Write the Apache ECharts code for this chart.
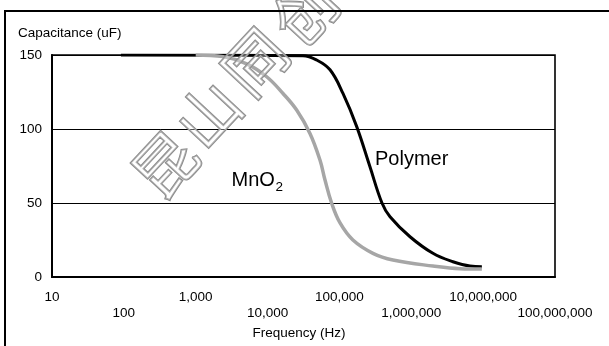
<!DOCTYPE html>
<html>
<head>
<meta charset="utf-8">
<script src="https://cdn.jsdelivr.net/npm/echarts@6/dist/echarts.min.js"></script>
<style>
html,body{margin:0;padding:0;background:#fff;}
#chart{width:609px;height:346px;}
</style>
</head>
<body>
<div id="chart"></div>
<script>
// Data
const polymerFreq = [91, 31100, 48300, 74000, 112000, 174000, 266000, 391000, 506000, 960000, 2000000, 3800000, 6560000, 9600000];
const polymerCap  = [150, 149.5, 146.6, 140, 124, 101.6, 74.5, 50, 40.7, 27.2, 16, 10.3, 7.4, 7];
const mno2Freq = [1000, 2400, 5120, 9720, 16400, 25400, 38900, 53600, 63000, 78000, 102000, 154000, 293000, 556000, 2000000, 4760000, 9600000];
const mno2Cap  = [150, 148.9, 144, 135.3, 124, 112.8, 97, 79, 65.5, 49.8, 36.5, 25, 16, 11.5, 7.4, 5.6, 5.4];
const xTicks = [10, 100, 1000, 10000, 100000, 1000000, 10000000, 100000000];
const xTickLabels = ['10', '100', '1,000', '10,000', '100,000', '1,000,000', '10,000,000', '100,000,000'];
const yTicks = [0, 50, 100, 150];
const yTickLabels = ['0', '50', '100', '150'];
const seriesNames = ['Polymer', 'MnO2'];

const FONT = '"Liberation Sans", Arial, sans-serif';
const chart = echarts.init(document.getElementById('chart'), null, {renderer: 'canvas'});

function pairs(xs, ys) { return xs.map((x, i) => [x, ys[i]]); }

const wm = ['昆', '山', '同', '创'];
const wmPos = [[165, 165], [208, 114], [255, 62], [305, 12]];

chart.setOption({
  animation: false,
  backgroundColor: '#fff',
  grid: {left: 52, right: 54, top: 55, bottom: 69, show: true, borderColor: '#000', borderWidth: 1.6, containLabel: false},
  xAxis: {
    type: 'log', logBase: 10, min: xTicks[0], max: xTicks[xTicks.length - 1],
    axisLine: {show: true, onZero: false, lineStyle: {color: '#000', width: 2}},
    axisTick: {show: false},
    splitLine: {show: false},
    axisLabel: {
      color: '#000', fontFamily: FONT, fontSize: 13.5, margin: 12, lineHeight: 16,
      formatter: function (v) {
        const i = xTicks.findIndex(t => Math.abs(Math.log10(t) - Math.log10(v)) < 1e-6);
        if (i < 0) return '';
        return (i % 2 === 1 ? '\n' : '') + xTickLabels[i];
      }
    }
  },
  yAxis: {
    type: 'value', min: yTicks[0], max: yTicks[yTicks.length - 1], interval: 50,
    axisLine: {show: true, lineStyle: {color: '#000', width: 2}},
    axisTick: {show: false},
    splitLine: {show: true, lineStyle: {color: '#000', width: 1.2}},
    axisLabel: {
      color: '#000', fontFamily: FONT, fontSize: 13.5, margin: 10,
      formatter: function (v) { const i = yTicks.indexOf(v); return i < 0 ? '' : yTickLabels[i]; }
    }
  },
  series: [
    {
      name: seriesNames[0], type: 'line', data: pairs(polymerFreq, polymerCap),
      showSymbol: false, smooth: 0.4,
      lineStyle: {color: '#000', width: 3}, z: 2
    },
    {
      name: seriesNames[1], type: 'line', data: pairs(mno2Freq, mno2Cap),
      showSymbol: false, smooth: 0.4,
      lineStyle: {color: '#a6a6a6', width: 3.5}, z: 3
    }
  ],
  graphic: [
    {type: 'rect', silent: true, z: 100, shape: {x: 5, y: 11, width: 900, height: 600},
     style: {fill: 'none', stroke: '#000', lineWidth: 2}},
    {type: 'text', x: 18, y: 33, z: 100, style: {text: 'Capacitance (uF)', font: '13.5px ' + FONT, fill: '#000', align: 'left', verticalAlign: 'middle'}},
    {type: 'text', x: 299, y: 333, z: 100, style: {text: 'Frequency (Hz)', font: '13.5px ' + FONT, fill: '#000', align: 'center', verticalAlign: 'middle'}},
    {type: 'text', x: 375, y: 159, z: 100, style: {text: 'Polymer', font: '20px ' + FONT, fill: '#000', align: 'left', verticalAlign: 'middle'}},
    {type: 'text', x: 231.5, y: 180, z: 100, style: {text: 'MnO', font: '20px ' + FONT, fill: '#000', align: 'left', verticalAlign: 'middle'}},
    {type: 'text', x: 275.5, y: 187, z: 100, style: {text: '2', font: '13.5px ' + FONT, fill: '#000', align: 'left', verticalAlign: 'middle'}}
  ].concat(wm.map((c, i) => ({
    type: 'text', x: wmPos[i][0], y: wmPos[i][1], rotation: 47 * Math.PI / 180, z: 90, silent: true,
    style: {text: c, font: '62px "Noto Sans CJK SC"', fill: 'rgba(255,255,255,0.35)', stroke: '#8a8a8a', lineWidth: 1.8,
            align: 'center', verticalAlign: 'middle', shadowColor: 'rgba(0,0,0,0.35)', shadowOffsetX: 1.5, shadowOffsetY: 1.5, shadowBlur: 1}
  })))
});
</script>
</body>
</html>
